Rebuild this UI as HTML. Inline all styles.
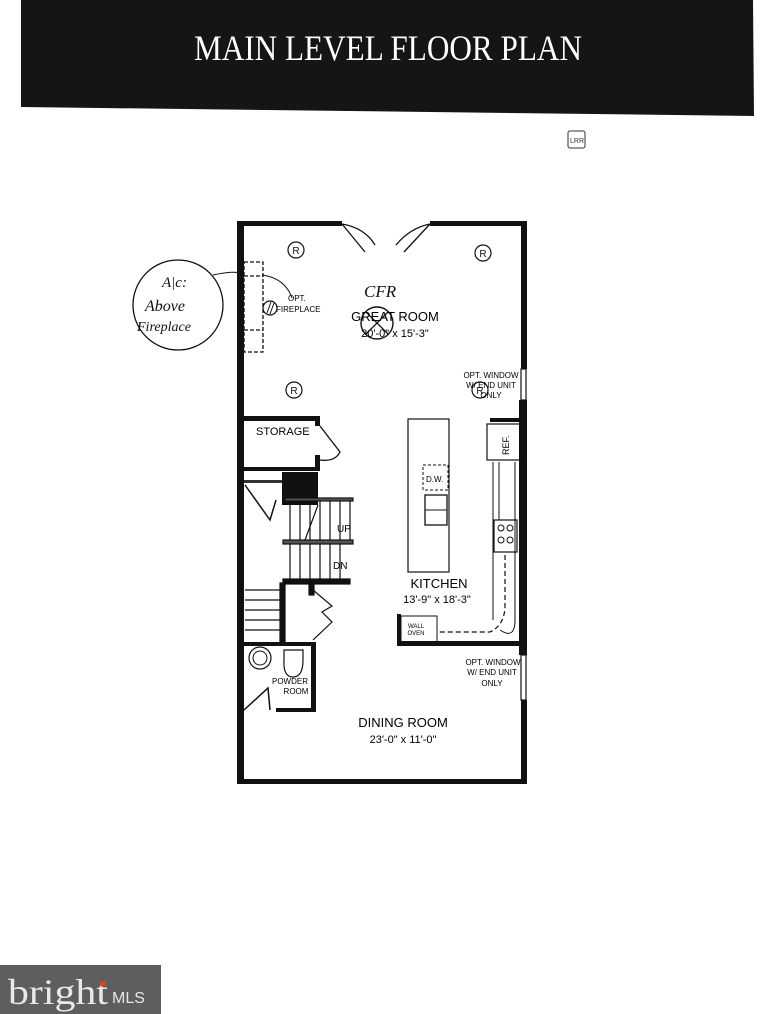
<!DOCTYPE html>
<html><head><meta charset="utf-8"><style>
html,body{margin:0;padding:0;background:#fff;}
svg{display:block}
</style></head><body>
<svg width="781" height="1014" viewBox="0 0 781 1014" xmlns="http://www.w3.org/2000/svg" font-family="Liberation Sans, sans-serif">
<rect width="781" height="1014" fill="#fff"/>
<!-- header -->
<polygon points="21,0 753,0 754,116 21,107" fill="#151515"/>
<text x="388" y="60" text-anchor="middle" font-family="Liberation Serif, serif" font-size="36" fill="#fff" textLength="388" lengthAdjust="spacingAndGlyphs">MAIN LEVEL FLOOR PLAN</text>
<!-- small icon -->
<rect x="568" y="131" width="17" height="17" rx="2" fill="none" stroke="#333" stroke-width="1"/>
<text x="570" y="143" font-size="7" fill="#333">LRR</text>

<!-- outer walls -->
<g fill="#111">
<rect x="237" y="221" width="7" height="563"/>
<rect x="237" y="221" width="105" height="5"/>
<rect x="430" y="221" width="97" height="5"/>
<rect x="521" y="221" width="6" height="148"/>
<rect x="519" y="400" width="8" height="255"/>
<rect x="521" y="700" width="6" height="84"/>
<rect x="237" y="779" width="290" height="5"/>
</g>
<g fill="none" stroke="#111" stroke-width="1.2">
<rect x="521" y="369" width="5" height="31"/>
<rect x="521" y="655" width="5" height="45"/>
</g>
<g fill="none" stroke="#111" stroke-width="1.3">
<path d="M342,224 L365,252 M342,224 Q365,228 375,245"/>
<path d="M430,224 L404,252 M430,224 Q410,228 396,245"/>
</g>
<g fill="none" stroke="#111" stroke-width="1.2">
<circle cx="296" cy="250" r="8"/><circle cx="483" cy="253" r="8"/><circle cx="294" cy="390" r="8"/><circle cx="480" cy="390" r="8"/>
</g>
<g font-size="10" text-anchor="middle" fill="#111">
<text x="296" y="254">R</text><text x="483" y="257">R</text><text x="294" y="394">R</text><text x="480" y="394">R</text>
</g>
<g fill="none" stroke="#111" stroke-width="1.3" stroke-dasharray="4,2">
<rect x="244" y="262" width="19" height="90"/>
<line x1="244" y1="276" x2="263" y2="276"/>
<line x1="244" y1="330" x2="263" y2="330"/>
</g>
<circle cx="270" cy="308" r="7" fill="none" stroke="#111" stroke-width="1.2"/>
<path d="M267,313 L271,302 M270,314 L274,303" stroke="#111"/>
<path d="M262,275 Q285,278 292,298" fill="none" stroke="#111"/>
<text x="288" y="301" font-size="8">OPT.</text>
<text x="276" y="312" font-size="8">FIREPLACE</text>
<ellipse cx="178" cy="305" rx="45" ry="45" fill="none" stroke="#111" stroke-width="1.3"/>
<path d="M213,275 Q235,270 244,274" fill="none" stroke="#111"/>
<g font-family="Liberation Serif, serif" font-style="italic" fill="#111">
<text x="162" y="287" font-size="15">A|c:</text>
<text x="145" y="311" font-size="16">Above</text>
<text x="137" y="331" font-size="14">Fireplace</text>
<text x="364" y="297" font-size="17">CFR</text>
</g>
<circle cx="377" cy="323" r="16" fill="none" stroke="#111" stroke-width="1.4"/>
<path d="M366,312 L388,334 M388,312 L366,334" stroke="#111" stroke-width="1.3"/>
<text x="395" y="321" text-anchor="middle" font-size="13">GREAT ROOM</text>
<text x="395" y="337" text-anchor="middle" font-size="11">20'-0" x 15'-3"</text>
<g font-size="8" text-anchor="middle"><text x="491" y="378">OPT. WINDOW</text><text x="491" y="388">W/ END UNIT</text><text x="491" y="398">ONLY</text></g>

<g fill="#111">
<rect x="244" y="416" width="76" height="5"/>
<rect x="315" y="416" width="5" height="10"/>
<rect x="244" y="467" width="76" height="4"/>
<rect x="315" y="455" width="5" height="15"/>
<rect x="282" y="472" width="36" height="33"/>
</g>
<path d="M320,426 L340,452 Q335,462 320,460" fill="none" stroke="#111" stroke-width="1.3"/>
<text x="256" y="435" font-size="11">STORAGE</text>
<path d="M245,485 L270,520 L276,500" fill="none" stroke="#111" stroke-width="1.5"/>
<rect x="244" y="480" width="38" height="3" fill="#333"/>
<g stroke="#111" stroke-width="1.2" fill="none">
<rect x="285" y="498" width="68" height="3" fill="#555"/>
<rect x="283" y="540" width="70" height="4" fill="#555"/>
<rect x="283" y="579" width="67" height="5" fill="#111"/>
<path d="M290,501 V540 M300,501 V540 M310,501 V540 M320,501 V540 M330,501 V540 M340,501 V540 M350,501 V540"/>
<path d="M290,544 V579 M300,544 V579 M310,544 V579 M320,544 V579 M330,544 V579 M340,544 V579"/>
<path d="M318,505 L305,540"/>
<path d="M245,590 H280 M245,600 H280 M245,610 H280 M245,620 H280 M245,630 H280"/>
<rect x="280" y="583" width="5" height="62" fill="#111"/>
<rect x="309" y="583" width="5" height="12" fill="#111"/>
<path d="M313,590 L332,606 L322,612 L332,622 L313,640"/>
</g>
<text x="337" y="532" font-size="10">UP</text>
<text x="333" y="569" font-size="10">DN</text>
<g fill="#111">
<rect x="244" y="642" width="72" height="4"/>
<rect x="311" y="642" width="5" height="70"/>
<rect x="276" y="708" width="40" height="4"/>
</g>
<circle cx="260" cy="658" r="11" fill="none" stroke="#111" stroke-width="1.2"/>
<circle cx="260" cy="658" r="7" fill="none" stroke="#111"/>
<path d="M284,650 H303 V660 Q303,677 293,677 Q283,677 284,660 Z" fill="none" stroke="#111" stroke-width="1.2"/>
<path d="M244,710 L268,688 L270,710" fill="none" stroke="#111" stroke-width="1.5"/>
<g font-size="8" text-anchor="middle"><text x="290" y="684">POWDER</text><text x="296" y="694">ROOM</text></g>

<rect x="408" y="419" width="41" height="153" fill="none" stroke="#111" stroke-width="1.2"/>
<rect x="423" y="465" width="25" height="25" fill="none" stroke="#111" stroke-dasharray="3,2"/>
<text x="426" y="482" font-size="8">D.W.</text>
<rect x="425" y="495" width="22" height="30" fill="none" stroke="#111" stroke-width="1.3"/>
<line x1="425" y1="510" x2="447" y2="510" stroke="#111"/>
<rect x="490" y="418" width="31" height="4" fill="#111"/>
<rect x="487" y="424" width="33" height="36" fill="none" stroke="#111" stroke-width="1.2"/>
<text x="509" y="455" font-size="9" transform="rotate(-90 509 455)">REF.</text>
<path d="M493,462 V620 M499,462 V520" fill="none" stroke="#111"/>
<rect x="494" y="520" width="23" height="32" fill="none" stroke="#111" stroke-width="1.2"/>
<g fill="none" stroke="#111"><circle cx="501" cy="528" r="3"/><circle cx="510" cy="528" r="3"/><circle cx="501" cy="540" r="3"/><circle cx="510" cy="540" r="3"/></g>
<path d="M505,555 V605 Q505,625 490,632 H437" fill="none" stroke="#111" stroke-width="1.2" stroke-dasharray="5,3"/>
<path d="M515,462 V620 Q515,640 500,630" fill="none" stroke="#111"/>
<g fill="#111">
<rect x="397" y="641" width="124" height="5"/>
<rect x="397" y="614" width="4" height="30"/>
</g>
<rect x="401" y="616" width="36" height="26" fill="none" stroke="#111"/>
<g font-size="6" text-anchor="middle"><text x="416" y="628">WALL</text><text x="416" y="635">OVEN</text></g>
<text x="439" y="588" text-anchor="middle" font-size="13">KITCHEN</text>
<text x="437" y="603" text-anchor="middle" font-size="11">13'-9" x 18'-3"</text>
<g font-size="8" text-anchor="middle"><text x="493" y="665">OPT. WINDOW</text><text x="492" y="675">W/ END UNIT</text><text x="492" y="686">ONLY</text></g>
<text x="403" y="727" text-anchor="middle" font-size="13">DINING ROOM</text>
<text x="403" y="743" text-anchor="middle" font-size="11">23'-0" x 11'-0"</text>

<rect x="0" y="965" width="161" height="49" fill="#5e5e5e"/>
<text x="8" y="1004" font-family="Liberation Serif, serif" font-size="36" fill="#e8e8e8" textLength="100" lengthAdjust="spacingAndGlyphs">bright</text>
<text x="112" y="1003" font-size="16" fill="#e8e8e8">MLS</text>
<circle cx="103" cy="984" r="3" fill="#e04020"/>
</svg>
</body></html>
